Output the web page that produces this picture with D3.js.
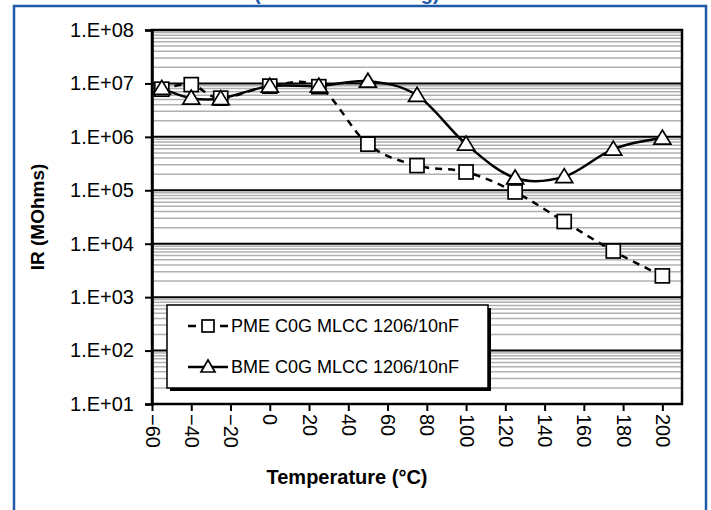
<!DOCTYPE html>
<html>
  <head>
    <meta charset="UTF-8" />
    <title>IR vs Temperature</title>
    <script src="https://d3js.org/d3.v7.min.js"></script>
    <style>
      * {
        margin: 0;
        padding: 0;
      }
      body {
        background-color: #ffffff;
      }
      svg {
        display: block;
      }
      text {
        font-family: "Liberation Sans", Arial, sans-serif;
        fill: #000000;
      }
    </style>
  </head>
  <body>
    <svg id="chart" width="711" height="510"></svg>
  </body>
  <script>
    // data
    const temps = [-55, -40, -25, 0, 25, 50, 75, 100, 125, 150, 175, 200];
    const pme = [7.8e6, 9.5e6, 5.3e6, 8.9e6, 8.7e6, 7.3e5, 2.9e5, 2.2e5, 9.3e4, 2.6e4, 7.3e3, 2.5e3];
    const bme = [8.1e6, 5.3e6, 5.2e6, 8.9e6, 8.9e6, 1.1e7, 6.0e6, 7.3e5, 1.7e5, 1.8e5, 5.9e5, 9.5e5];
    const xTicks = [-60, -40, -20, 0, 20, 40, 60, 80, 100, 120, 140, 160, 180, 200];
    const yTicks = [1e1, 1e2, 1e3, 1e4, 1e5, 1e6, 1e7, 1e8];
    const seriesNames = ["PME C0G MLCC 1206/10nF", "BME C0G MLCC 1206/10nF"];

    const svg = d3.select("#chart");
    const plotLeft = 152, plotRight = 682, plotTop = 30, plotBottom = 404;

    const x = d3.scaleLinear().domain([-60, 210]).range([plotLeft, plotRight]);
    const y = d3.scaleLog().domain([1e1, 1e8]).range([plotBottom, plotTop]);

    // title (mostly cut off at the top of the frame)
    svg.append("text")
      .attr("x", 254)
      .attr("y", 0)
      .style("font-size", "20px")
      .style("font-weight", "bold")
      .style("fill", "#1f5aa6")
      .text("(C0G MLCC Rating)");

    // blue frame
    svg.append("rect")
      .attr("x", 14)
      .attr("y", 6)
      .attr("width", 692)
      .attr("height", 530)
      .attr("fill", "none")
      .attr("stroke", "#1f5aa6")
      .attr("stroke-width", 2.5);

    // minor grid lines
    const minor = [];
    for (let e = 1; e < 8; e++) {
      for (let k = 2; k <= 9; k++) minor.push(k * Math.pow(10, e));
    }
    svg.append("g")
      .selectAll("line")
      .data(minor)
      .join("line")
      .attr("x1", plotLeft)
      .attr("x2", plotRight)
      .attr("y1", (d) => y(d))
      .attr("y2", (d) => y(d))
      .attr("stroke", "#b0b0b0")
      .attr("stroke-width", 1.5);

    // major grid lines
    svg.append("g")
      .selectAll("line")
      .data(yTicks)
      .join("line")
      .attr("x1", plotLeft)
      .attr("x2", plotRight)
      .attr("y1", (d) => y(d))
      .attr("y2", (d) => y(d))
      .attr("stroke", "#000")
      .attr("stroke-width", 2);

    // plot border
    svg.append("rect")
      .attr("x", plotLeft)
      .attr("y", plotTop)
      .attr("width", plotRight - plotLeft)
      .attr("height", plotBottom - plotTop)
      .attr("fill", "none")
      .attr("stroke", "#000")
      .attr("stroke-width", 2.5);

    // axes
    const yAxis = svg.append("g")
      .attr("transform", `translate(${plotLeft},0)`)
      .call(d3.axisLeft(y)
        .tickValues(yTicks)
        .tickSize(7)
        .tickFormat((d) => "1.E+" + String(Math.round(Math.log10(d))).padStart(2, "0")));
    yAxis.select(".domain").attr("stroke-width", 2.5);
    yAxis.selectAll(".tick line").attr("stroke-width", 2);
    yAxis.selectAll("text")
      .attr("x", -18)
      .style("font-size", "20px")
      .style("font-family", "'Liberation Sans', Arial, sans-serif");

    const xAxis = svg.append("g")
      .attr("transform", `translate(0,${plotBottom})`)
      .call(d3.axisBottom(x).tickValues(xTicks).tickSize(7).tickSizeOuter(0));
    xAxis.select(".domain").remove();
    xAxis.selectAll(".tick line").attr("stroke-width", 2);
    xAxis.selectAll("text")
      .attr("transform", "rotate(90)")
      .attr("x", 10)
      .attr("y", 0)
      .attr("dy", "0.35em")
      .attr("text-anchor", "start")
      .style("font-size", "20px")
      .style("font-family", "'Liberation Sans', Arial, sans-serif");

    // axis titles
    svg.append("text")
      .attr("transform", "translate(44,217) rotate(-90)")
      .attr("text-anchor", "middle")
      .style("font-size", "19px")
      .style("font-weight", "bold")
      .text("IR (MOhms)");
    svg.append("text")
      .attr("x", 347)
      .attr("y", 484)
      .attr("text-anchor", "middle")
      .style("font-size", "20px")
      .style("font-weight", "bold")
      .text("Temperature (°C)");

    // series lines
    svg.append("clipPath").attr("id", "plotclip")
      .append("rect")
      .attr("x", plotLeft).attr("y", plotTop)
      .attr("width", plotRight - plotLeft).attr("height", plotBottom - plotTop);

    const line = d3.line()
      .x((d) => x(d[0]))
      .y((d) => y(d[1]))
      .curve(d3.curveCardinal.tension(0));

    const pmePts = temps.map((t, i) => [t, pme[i]]);
    const bmePts = temps.map((t, i) => [t, bme[i]]);

    const plot = svg.append("g").attr("clip-path", "url(#plotclip)");
    plot.append("path")
      .attr("d", line(pmePts))
      .attr("fill", "none")
      .attr("stroke", "#000")
      .attr("stroke-width", 2.5)
      .attr("stroke-dasharray", "7,6");
    plot.append("path")
      .attr("d", line(bmePts))
      .attr("fill", "none")
      .attr("stroke", "#000")
      .attr("stroke-width", 2.5);

    const triangle = "M0,-8L8.5,6L-8.5,6Z";

    // markers
    svg.append("g")
      .selectAll("rect")
      .data(pmePts)
      .join("rect")
      .attr("x", (d) => x(d[0]) - 7)
      .attr("y", (d) => y(d[1]) - 7)
      .attr("width", 14)
      .attr("height", 14)
      .attr("fill", "#fff")
      .attr("stroke", "#000")
      .attr("stroke-width", 1.7);
    svg.append("g")
      .selectAll("path")
      .data(bmePts)
      .join("path")
      .attr("transform", (d) => `translate(${x(d[0])},${y(d[1])})`)
      .attr("d", triangle)
      .attr("fill", "#fff")
      .attr("stroke", "#000")
      .attr("stroke-width", 1.7);

    // legend
    const lg = svg.append("g");
    lg.append("rect")
      .attr("x", 170).attr("y", 308)
      .attr("width", 321).attr("height", 83)
      .attr("fill", "#000");
    lg.append("rect")
      .attr("x", 167).attr("y", 305)
      .attr("width", 321).attr("height", 83)
      .attr("fill", "#fff")
      .attr("stroke", "#000")
      .attr("stroke-width", 1.5);

    const rows = [326, 367];
    [[188, 196], [220, 228]].forEach((seg) => {
      lg.append("line")
        .attr("x1", seg[0]).attr("x2", seg[1])
        .attr("y1", rows[0]).attr("y2", rows[0])
        .attr("stroke", "#000").attr("stroke-width", 2.5);
    });
    lg.append("rect")
      .attr("x", 202).attr("y", rows[0] - 6)
      .attr("width", 12).attr("height", 12)
      .attr("fill", "#fff").attr("stroke", "#000").attr("stroke-width", 1.7);
    lg.append("line")
      .attr("x1", 188).attr("x2", 228)
      .attr("y1", rows[1]).attr("y2", rows[1])
      .attr("stroke", "#000").attr("stroke-width", 2.5);
    lg.append("path")
      .attr("transform", `translate(208,${rows[1]})`)
      .attr("d", "M0,-7L7,5L-7,5Z")
      .attr("fill", "#fff").attr("stroke", "#000").attr("stroke-width", 1.7);

    lg.selectAll(".leg-text")
      .data(seriesNames)
      .join("text")
      .attr("class", "leg-text")
      .attr("x", 231)
      .attr("y", (d, i) => rows[i])
      .attr("dy", "0.35em")
      .style("font-size", "18px")
      .text((d) => d);
  </script>
</html>
